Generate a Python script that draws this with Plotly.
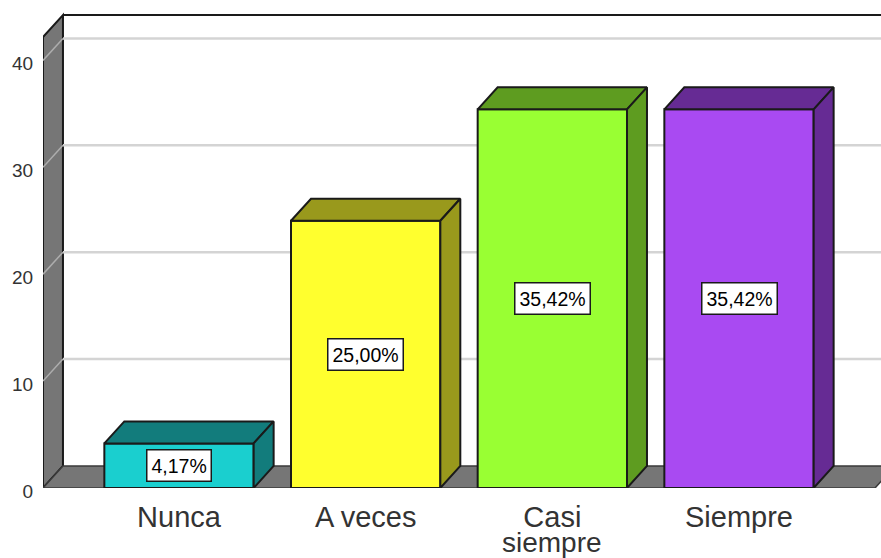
import plotly.graph_objects as go

# Response categories and their shares (%)
category_lines = [["Nunca"], ["A veces"], ["Casi", "siempre"], ["Siempre"]]
values = [4.17, 25.00, 35.42, 35.42]
value_labels = ["4,17%", "25,00%", "35,42%", "35,42%"]
y_ticks = [0, 10, 20, 30, 40]

front_colors = ["#1ACFCF", "#FFFF2E", "#99FF33", "#A94AF2"]
shade_colors = ["#127C7C", "#99991C", "#5E9C20", "#662B94"]

# Extrusion of the pseudo-3D look, in axis units
DEPTH_X = 0.107
DEPTH_Y = 2.06
BAR_HALF = 0.40
X_MIN = -0.7286
X_FLOOR_END = 3.7286
X_MAX = 3.7607
Y_TOP = 44.25
Y_MAX = 45.65

EDGE = "#1a1a1a"
WALL = "#767676"
AXIS_TEXT = "#333333"
FONT = "Liberation Sans"


def polygon_path(points):
    return "M " + " L ".join(f"{x} {y}" for x, y in points) + " Z"


shapes = []
# Left wall
shapes.append(dict(
    type="path", layer="below", xref="x", yref="y",
    path=polygon_path([(X_MIN, 0), (X_MIN + DEPTH_X, DEPTH_Y),
                       (X_MIN + DEPTH_X, Y_TOP), (X_MIN, Y_TOP - DEPTH_Y)]),
    fillcolor=WALL, line=dict(color=EDGE, width=2),
))
# Floor
shapes.append(dict(
    type="path", layer="below", xref="x", yref="y",
    path=polygon_path([(X_MIN, 0), (X_FLOOR_END, 0),
                       (X_FLOOR_END + DEPTH_X, DEPTH_Y), (X_MIN + DEPTH_X, DEPTH_Y)]),
    fillcolor=WALL, line=dict(color="#3a3a3a", width=1.5),
))
# Gridlines on the back wall and their continuation across the side wall
for tick in y_ticks[1:]:
    shapes.append(dict(
        type="line", layer="below", xref="x", yref="y",
        x0=X_MIN + DEPTH_X, x1=X_MAX, y0=tick + DEPTH_Y, y1=tick + DEPTH_Y,
        line=dict(color="#D4D4D4", width=2.5),
    ))
    shapes.append(dict(
        type="line", layer="below", xref="x", yref="y",
        x0=X_MIN, x1=X_MIN + DEPTH_X, y0=tick, y1=tick + DEPTH_Y,
        line=dict(color="#ADADAD", width=1.5),
    ))
# Top edge of the back wall
shapes.append(dict(
    type="line", layer="below", xref="x", yref="y",
    x0=X_MIN + DEPTH_X, x1=X_MAX, y0=Y_TOP, y1=Y_TOP,
    line=dict(color=EDGE, width=2),
))

fig = go.Figure()

# Front faces
fig.add_trace(go.Bar(
    x=list(range(len(values))), y=values, width=BAR_HALF * 2,
    marker=dict(color=front_colors, line=dict(color=EDGE, width=2)),
    cliponaxis=False, hoverinfo="skip", showlegend=False,
))

# Top and right faces of each bar
for i, (v, shade) in enumerate(zip(values, shade_colors)):
    left, right = i - BAR_HALF, i + BAR_HALF
    top_x = [left, right, right + DEPTH_X, left + DEPTH_X, left]
    top_y = [v, v, v + DEPTH_Y, v + DEPTH_Y, v]
    side_x = [right, right + DEPTH_X, right + DEPTH_X, right, right]
    side_y = [0, DEPTH_Y, v + DEPTH_Y, v, 0]
    for px, py in ((top_x, top_y), (side_x, side_y)):
        fig.add_trace(go.Scatter(
            x=px, y=py, mode="lines", fill="toself", fillcolor=shade,
            line=dict(color=EDGE, width=2), cliponaxis=False,
            hoverinfo="skip", showlegend=False,
        ))

# Boxed percentage labels, centred on the front faces
annotations = [
    dict(x=i, y=v / 2, xref="x", yref="y", text=label, showarrow=False,
         font=dict(family=FONT, size=19.5, color="#000000"),
         bgcolor="#FFFFFF", bordercolor=EDGE, borderwidth=1.5, borderpad=4)
    for i, (v, label) in enumerate(zip(values, value_labels))
]

# Second line of a wrapped category name, set tighter than tick labels allow
for i, lines in enumerate(category_lines):
    if len(lines) > 1:
        annotations.append(dict(
            x=i, y=0, xref="x", yref="y", text=lines[1], showarrow=False,
            xanchor="center", yanchor="top", yshift=-37,
            font=dict(family=FONT, size=28, color=AXIS_TEXT),
        ))

fig.update_layout(
    width=881, height=558,
    margin=dict(l=43, r=0, t=0, b=69.5, pad=0),
    paper_bgcolor="#FFFFFF", plot_bgcolor="#FFFFFF",
    shapes=shapes, annotations=annotations, showlegend=False,
    xaxis=dict(
        range=[X_MIN, X_MAX], tickmode="array", automargin=False,
        tickvals=list(range(len(category_lines))),
        ticktext=[lines[0] for lines in category_lines],
        showgrid=False, zeroline=False, showline=False,
        ticks="outside", ticklen=3, tickcolor="rgba(0,0,0,0)",
        tickfont=dict(family=FONT, size=29, color=AXIS_TEXT),
    ),
    yaxis=dict(
        range=[0, Y_MAX], tickmode="array", tickvals=y_ticks, automargin=False,
        showgrid=False, zeroline=False, showline=False,
        ticks="outside", ticklen=5, tickcolor="rgba(0,0,0,0)",
        ticklabelshift=3,
        tickfont=dict(family=FONT, size=19, color=AXIS_TEXT),
    ),
)

fig.write_html("out.html", config=dict(displayModeBar=False))
